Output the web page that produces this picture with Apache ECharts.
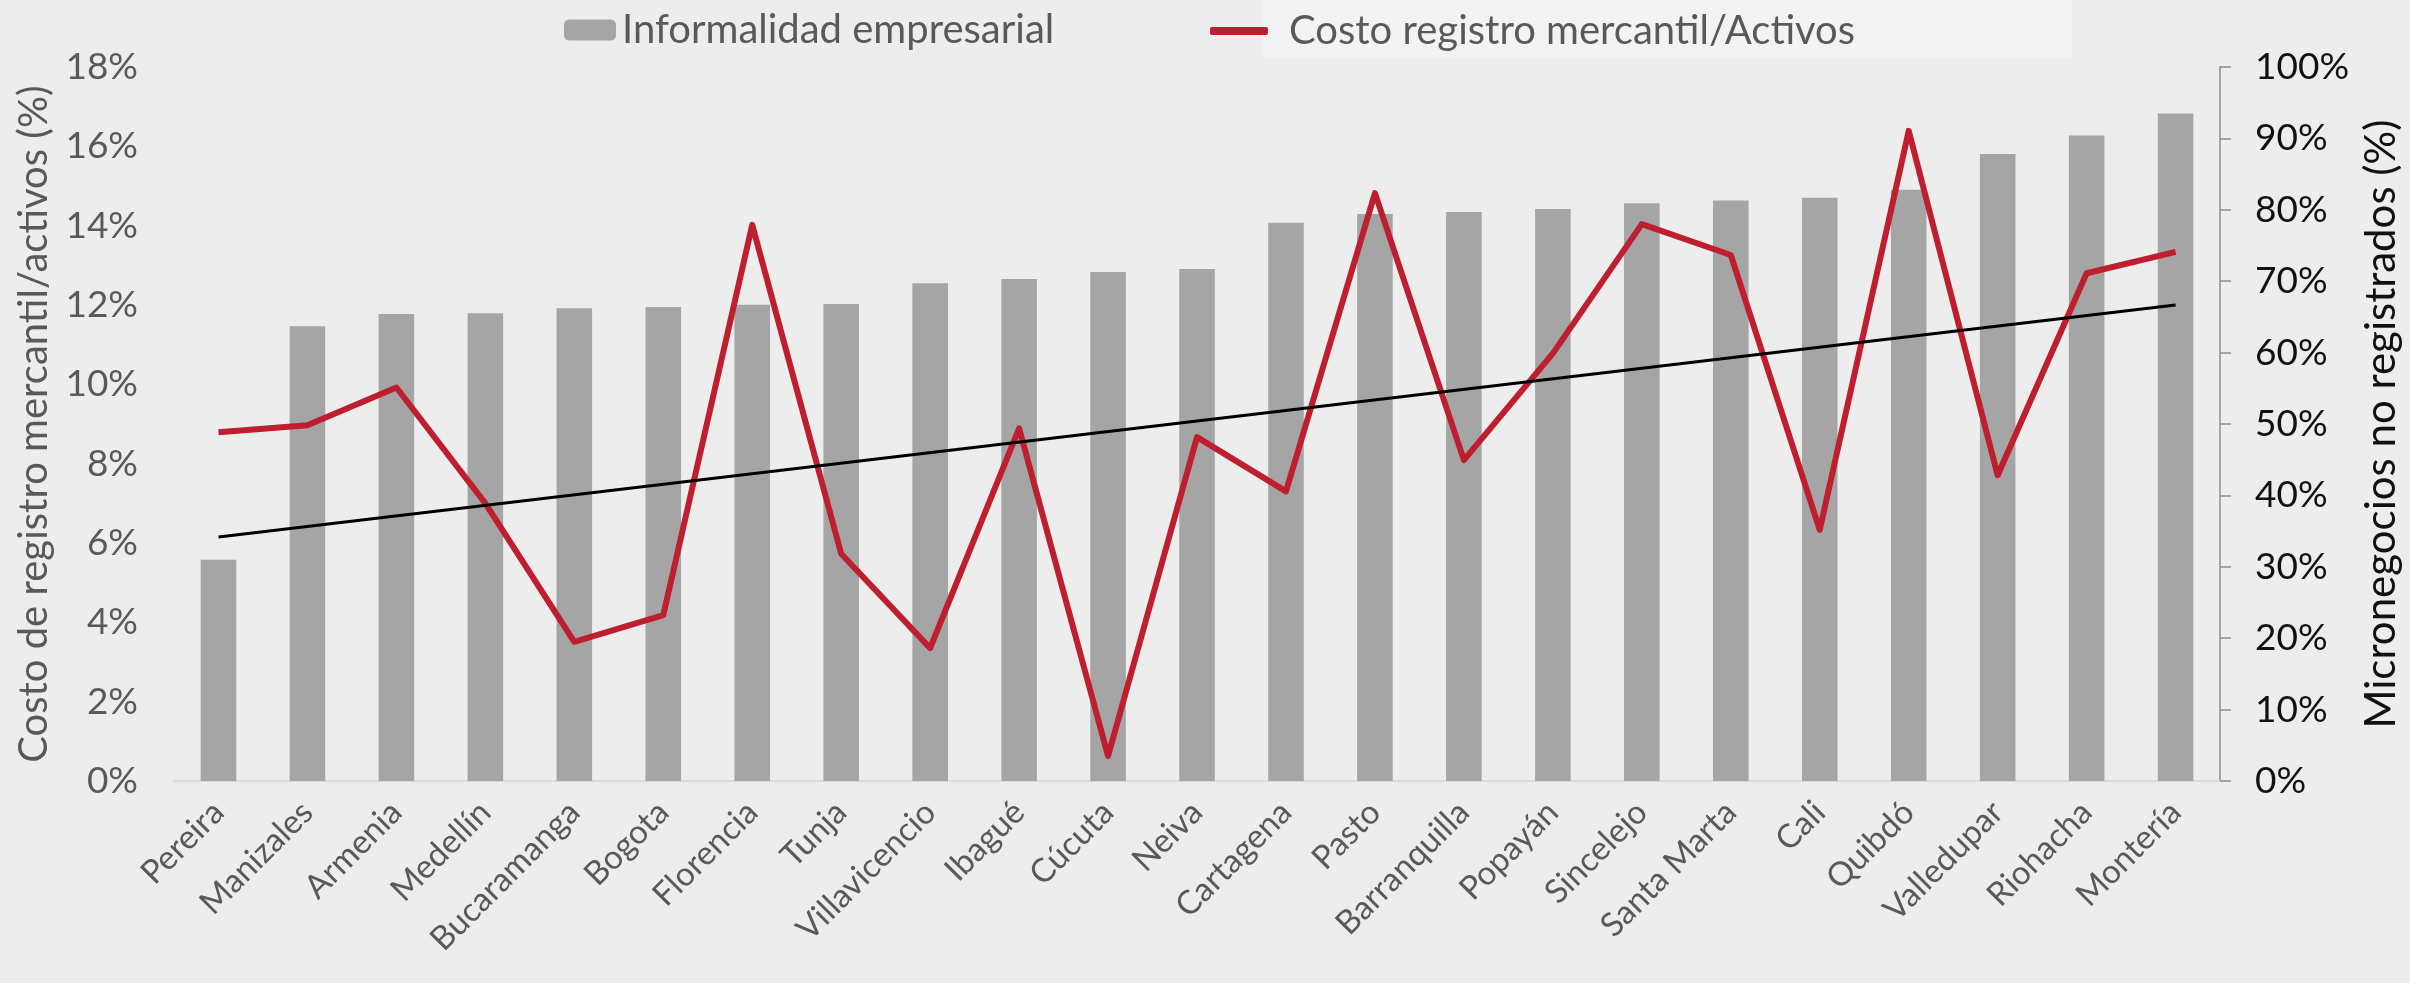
<!DOCTYPE html>
<html>
<head>
<meta charset="utf-8">
<script src="https://cdn.jsdelivr.net/npm/echarts@6/dist/echarts.min.js"></script>
<style>
  html, body { margin: 0; padding: 0; background: #ededed; }
  #chart { width: 2410px; height: 983px; }
</style>
</head>
<body>
<div id="chart"></div>
<script>
// ciudades ordenadas por informalidad
var ciudades = ['Pereira', 'Manizales', 'Armenia', 'Medellín', 'Bucaramanga', 'Bogota', 'Florencia',
  'Tunja', 'Villavicencio', 'Ibagué', 'Cúcuta', 'Neiva', 'Cartagena', 'Pasto', 'Barranquilla',
  'Popayán', 'Sincelejo', 'Santa Marta', 'Cali', 'Quibdó', 'Valledupar', 'Riohacha', 'Montería'];

// micronegocios no registrados (%), eje derecho
var informalidad = [31.0, 63.7, 65.4, 65.5, 66.2, 66.4, 66.7, 66.8, 69.7, 70.3, 71.3, 71.7,
  78.2, 79.4, 79.7, 80.1, 80.9, 81.3, 81.7, 82.8, 87.8, 90.4, 93.5];

// costo registro mercantil / activos (%), eje izquierdo
var costoRegistro = [8.79, 8.97, 9.92, 7.0, 3.51, 4.18, 14.02, 5.73, 3.35, 8.89, 0.63, 8.67,
  7.3, 14.82, 8.09, 10.78, 14.04, 13.26, 6.33, 16.39, 7.71, 12.8, 13.34];

// tendencia lineal (solo extremos)
var tendencia = [6.15, 12.0];

var ticksIzq = [0, 18, 2];
var ticksDer = [0, 100, 10];

var trendData = ciudades.map(function (c, i) {
  if (i === 0) return tendencia[0];
  if (i === ciudades.length - 1) return tendencia[1];
  return null;
});

var font = 'Lato';
var chart = echarts.init(document.getElementById('chart'));

var option = {
  backgroundColor: '#ededed',
  animation: false,
  textStyle: { fontFamily: font },
  graphic: [{
    type: 'rect',
    z: 0,
    shape: { x: 1263, y: 0, width: 809, height: 58 },
    style: { fill: '#f3f3f3' }
  }],
  legend: [{
    data: ['Informalidad empresarial'],
    left: 559,
    top: 5,
    itemWidth: 52,
    itemHeight: 21,
    textStyle: { fontFamily: font, fontSize: 40, color: '#595959', padding: [0, 0, 0, 1] }
  }, {
    data: [{ name: 'Costo registro mercantil/Activos', icon: 'roundRect' }],
    left: 1205,
    top: 6,
    itemWidth: 58,
    itemHeight: 8,
    textStyle: { fontFamily: font, fontSize: 40, color: '#595959', padding: [0, 0, 0, 16] }
  }],
  grid: { left: 174, right: 182, top: 67, bottom: 202 },
  xAxis: {
    type: 'category',
    data: ciudades,
    axisLine: { lineStyle: { color: '#d9d9d9', width: 2 } },
    axisTick: { show: false },
    axisLabel: {
      rotate: 45,
      interval: 0,
      margin: 26,
      fontSize: 33,
      fontFamily: font,
      color: '#595959'
    }
  },
  yAxis: [{
    type: 'value',
    min: ticksIzq[0],
    max: ticksIzq[1],
    interval: ticksIzq[2],
    position: 'left',
    name: 'Costo de registro mercantil/activos (%)',
    nameLocation: 'middle',
    nameGap: 120,
    nameTextStyle: { fontSize: 40, color: '#595959', fontFamily: font },
    axisLine: { show: false },
    axisTick: { show: false },
    splitLine: { show: false },
    axisLabel: {
      formatter: '{value}%',
      fontSize: 37,
      margin: 36,
      color: '#595959',
      fontFamily: font
    }
  }, {
    type: 'value',
    min: ticksDer[0],
    max: ticksDer[1],
    interval: ticksDer[2],
    position: 'right',
    name: 'Micronegocios no registrados (%)',
    nameLocation: 'middle',
    nameGap: 138,
    nameTextStyle: { fontSize: 42, color: '#111', fontFamily: font },
    axisLine: { show: true, lineStyle: { color: '#8c8c8c', width: 1.5 } },
    axisTick: { show: true, length: 11, lineStyle: { color: '#8c8c8c', width: 1.5 } },
    splitLine: { show: false },
    axisLabel: {
      formatter: '{value}%',
      fontSize: 37,
      margin: 35,
      color: '#111',
      fontFamily: font
    }
  }],
  series: [{
    name: 'Informalidad empresarial',
    type: 'bar',
    yAxisIndex: 1,
    data: informalidad,
    barWidth: '40%',
    itemStyle: { color: '#a5a5a5' },
    z: 1
  }, {
    name: 'Costo registro mercantil/Activos',
    type: 'line',
    yAxisIndex: 0,
    data: costoRegistro,
    symbol: 'none',
    lineStyle: { color: '#be1e2d', width: 6, join: 'round' },
    itemStyle: { color: '#be1e2d' },
    z: 3
  }, {
    name: 'Tendencia',
    type: 'line',
    yAxisIndex: 0,
    data: trendData,
    connectNulls: true,
    symbol: 'none',
    lineStyle: { color: '#000', width: 3 },
    z: 4
  }]
};

chart.setOption(option);
</script>
</body>
</html>
